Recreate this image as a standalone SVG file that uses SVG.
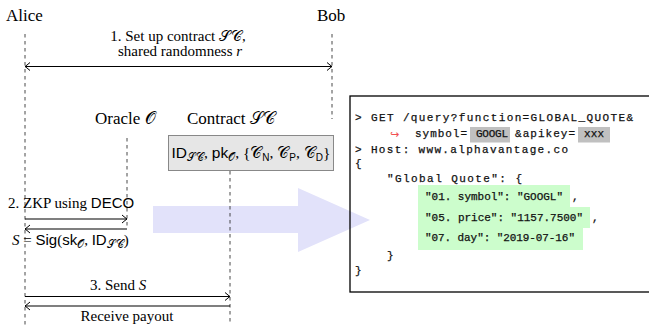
<svg xmlns="http://www.w3.org/2000/svg" width="649" height="325" viewBox="0 0 649 325">
<defs>
<style>
.lbl{font-family:"Liberation Serif","Times New Roman",serif;fill:#000}
.big{font-size:17px}
.mid{font-size:15px}
.sf{font-family:"Liberation Sans","DejaVu Sans",sans-serif}
.it{font-style:italic}
.life{stroke:#333;stroke-width:0.9;stroke-dasharray:3.5 3.5;fill:none}
.conn{stroke:#000;stroke-width:1.2;fill:none}
.code{font-family:"Liberation Mono","DejaVu Sans Mono",monospace;font-size:11px;fill:#111;stroke:#111;stroke-width:0.25}
.hl{fill:#c0c0c0}
.gr{fill:#ccfdcc}
</style>
<marker id="arr" viewBox="-6 -5 8 10" markerWidth="8" markerHeight="10" refX="0" refY="0" orient="auto-start-reverse" markerUnits="userSpaceOnUse">
<path d="M-5,-4 Q-1.5,-1 0,0 Q-1.5,1 -5,4" fill="none" stroke="#000" stroke-width="1"/>
</marker>
</defs>
<rect width="649" height="325" fill="#fff"/>
<path id="bigarrow" d="M153,206 L298,206 L298,188 L370,220 L298,252 L298,233 L153,233 Z" fill="#e2e2fa"/>
<g id="alice">
<text class="lbl big" x="6" y="21">Alice</text>
<line class="life" x1="25" y1="34" x2="25" y2="325"/>
</g>
<g id="bob">
<text class="lbl big" x="317" y="21">Bob</text>
<line class="life" x1="332" y1="34" x2="332" y2="119"/>
</g>
<g id="oracle">
<text class="lbl big" x="95" y="124">Oracle 𝒪</text>
<line class="life" x1="127" y1="138" x2="127" y2="229"/>
</g>
<g id="contract">
<text class="lbl big" x="187" y="124">Contract 𝒮𝒞</text>
<rect x="168.5" y="135.5" width="165" height="35" fill="#e6e6e6" stroke="#888" stroke-width="1"/>
<text class="lbl" x="251" y="158" font-size="15.5" text-anchor="middle"><tspan class="sf">ID</tspan><tspan font-size="11" dy="3">𝒮𝒞</tspan><tspan dy="-3">, </tspan><tspan class="sf">pk</tspan><tspan font-size="11" dy="3">𝒪</tspan><tspan dy="-3">, {𝒞</tspan><tspan class="sf" font-size="10" dy="3">N</tspan><tspan dy="-3">, 𝒞</tspan><tspan class="sf" font-size="10" dy="3">P</tspan><tspan dy="-3">, 𝒞</tspan><tspan class="sf" font-size="10" dy="3">D</tspan><tspan dy="-3">}</tspan></text>
<line class="life" x1="230" y1="171" x2="230" y2="325"/>
</g>
<g id="api">
<rect x="350" y="96" width="305" height="196" fill="none" stroke="#000" stroke-width="1.3"/>
<rect class="hl" x="470" y="127" width="40" height="15.5"/>
<rect class="hl" x="578" y="127" width="32" height="15.5"/>
<rect class="gr" x="418" y="185" width="152" height="22"/>
<rect class="gr" x="418" y="207" width="172" height="21"/>
<rect class="gr" x="418" y="228" width="165" height="22"/>
<text class="code" x="355" y="121" textLength="278" lengthAdjust="spacing">&gt; GET /query?function=GLOBAL_QUOTE&amp;</text>
<text x="390" y="138" font-family="DejaVu Sans,sans-serif" font-size="11" fill="#f25050">↪</text>
<text class="code" x="415" y="137" textLength="52" lengthAdjust="spacing">symbol=</text>
<text class="code" x="476" y="137" textLength="32" lengthAdjust="spacing">GOOGL</text>
<text class="code" x="515" y="137" textLength="60" lengthAdjust="spacing">&amp;apikey=</text>
<text class="code" x="584" y="137" textLength="20" lengthAdjust="spacing">xxx</text>
<text class="code" x="355" y="153" textLength="213" lengthAdjust="spacing">&gt; Host: www.alphavantage.co</text>
<text class="code" x="355" y="167">{</text>
<text class="code" x="387" y="182" textLength="135" lengthAdjust="spacing">"Global Quote": {</text>
<text class="code" x="425" y="200" textLength="138" lengthAdjust="spacing">"01. symbol": "GOOGL"</text>
<text class="code" x="572" y="200">,</text>
<text class="code" x="425" y="221" textLength="158" lengthAdjust="spacing">"05. price": "1157.7500"</text>
<text class="code" x="592" y="221">,</text>
<text class="code" x="425" y="241" textLength="150" lengthAdjust="spacing">"07. day": "2019-07-16"</text>
<text class="code" x="387" y="259">}</text>
<text class="code" x="355" y="274">}</text>
</g>
<g id="connectors">
<line class="conn" x1="25" y1="66.5" x2="332" y2="66.5" marker-start="url(#arr)" marker-end="url(#arr)"/>
<text class="lbl mid" x="178" y="41" text-anchor="middle">1. Set up contract 𝒮𝒞,</text>
<text class="lbl mid" x="180" y="56" text-anchor="middle">shared randomness <tspan class="it">r</tspan></text>
<line class="conn" x1="25" y1="219" x2="127" y2="219" marker-end="url(#arr)"/>
<line class="conn" x1="127" y1="229" x2="25" y2="229" marker-end="url(#arr)"/>
<text class="lbl mid" x="8" y="208">2. ZKP using <tspan class="sf">DECO</tspan></text>
<text class="lbl mid" x="12" y="245" font-size="16"><tspan class="it">S</tspan> = <tspan class="sf">Sig</tspan>(<tspan class="sf">sk</tspan><tspan font-size="11" dy="3">𝒪</tspan><tspan dy="-3">, </tspan><tspan class="sf">ID</tspan><tspan font-size="11" dy="3">𝒮𝒞</tspan><tspan dy="-3">)</tspan></text>
<line class="conn" x1="25" y1="296.5" x2="230" y2="296.5" marker-end="url(#arr)"/>
<line class="conn" x1="230" y1="306" x2="25" y2="306" marker-end="url(#arr)"/>
<text class="lbl mid" x="118" y="290" text-anchor="middle">3. Send <tspan class="it">S</tspan></text>
<text class="lbl mid" x="127" y="321" text-anchor="middle">Receive payout</text>
</g>
</svg>
